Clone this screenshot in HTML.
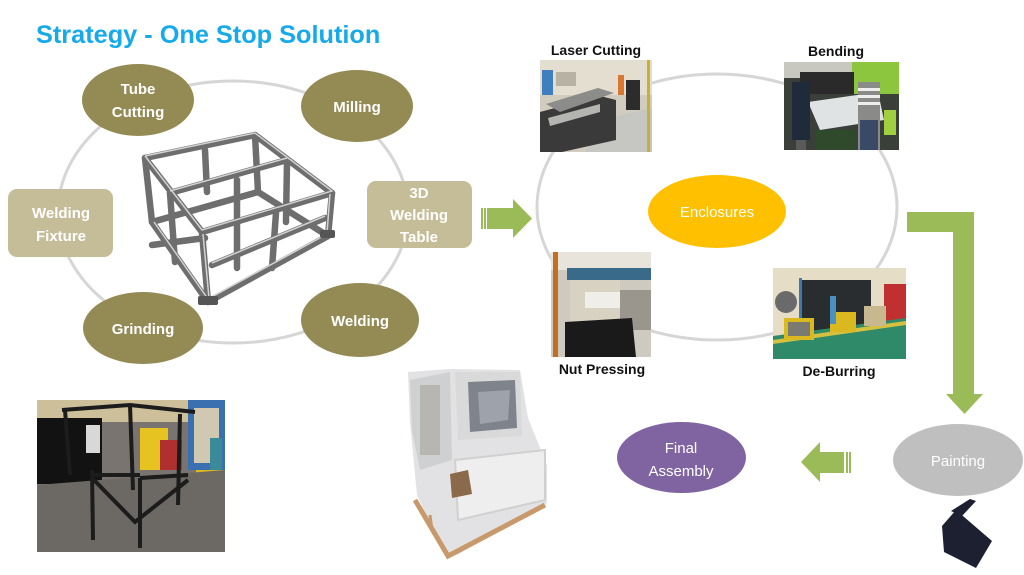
<!DOCTYPE html>
<html><head><meta charset="utf-8"><style>
html,body{margin:0;padding:0;background:#fff;}
body{width:1024px;height:575px;overflow:hidden;position:relative;font-family:"Liberation Sans",Arial,sans-serif;}
svg{position:absolute;left:0;top:0;}
</style></head><body>
<svg width="1024" height="575" viewBox="0 0 1024 575" xmlns="http://www.w3.org/2000/svg" font-family="Liberation Sans, Arial, sans-serif">
<!-- Title -->
<text x="36" y="43" font-size="25.3" font-weight="bold" fill="#16aaea">Strategy - One Stop Solution</text>

<!-- Left ring -->
<ellipse cx="233" cy="212" rx="175" ry="131" fill="none" stroke="#d6d6d6" stroke-width="3"/>

<!-- Central metal frame -->
<g stroke="#6e6e6e" stroke-width="6.5" stroke-linecap="round" stroke-linejoin="round" fill="none">
  <polyline points="145,158 255,135 332,193 202,232 145,158"/>
  <line x1="170" y1="193" x2="287" y2="160"/>
  <line x1="145" y1="158" x2="152" y2="222"/>
  <line x1="202" y1="232" x2="208" y2="302"/>
  <line x1="332" y1="193" x2="328" y2="236"/>
  <line x1="255" y1="135" x2="258" y2="192"/>
  <line x1="205" y1="150" x2="207" y2="192"/>
  <line x1="170" y1="193" x2="175" y2="262"/>
  <line x1="237" y1="180" x2="237" y2="268"/>
  <line x1="287" y1="162" x2="286" y2="222"/>
  <line x1="276" y1="213" x2="272" y2="268"/>
  <polyline points="152,222 208,302 328,236 258,192 152,222" />
  <line x1="152" y1="245" x2="205" y2="238"/>
  <line x1="212" y1="265" x2="325" y2="218"/>
</g>
<g stroke="#d2d2d2" stroke-width="1.5" fill="none">
  <polyline points="145,156 255,133 332,191 202,230 145,156"/>
  <line x1="170" y1="191" x2="287" y2="158"/>
  <line x1="212" y1="263" x2="325" y2="216"/>
  <line x1="154" y1="222" x2="208" y2="299"/>
  <line x1="208" y1="299" x2="327" y2="234"/>
  <line x1="203" y1="234" x2="209" y2="298"/>
  <line x1="330" y1="194" x2="327" y2="233"/>
</g>
<g fill="#555">
  <rect x="198" y="296" width="20" height="9" rx="2"/>
  <rect x="320" y="230" width="15" height="8" rx="2"/>
</g>

<!-- Left nodes -->
<g fill="#948a54">
  <ellipse cx="138" cy="100" rx="56" ry="36"/>
  <ellipse cx="357" cy="106" rx="56" ry="36"/>
  <ellipse cx="143" cy="328" rx="60" ry="36"/>
  <ellipse cx="360" cy="320" rx="59" ry="37"/>
</g>
<g fill="#c4bd97">
  <rect x="8" y="189" width="105" height="68" rx="9"/>
  <rect x="367" y="181" width="105" height="67" rx="9"/>
</g>
<g fill="#fff" font-size="15" font-weight="bold" text-anchor="middle">
  <text x="138" y="94">Tube</text>
  <text x="138" y="117">Cutting</text>
  <text x="357" y="112">Milling</text>
  <text x="143" y="334">Grinding</text>
  <text x="360" y="326">Welding</text>
  <text x="61" y="218">Welding</text>
  <text x="61" y="241">Fixture</text>
  <text x="419" y="198">3D</text>
  <text x="419" y="220">Welding</text>
  <text x="419" y="242">Table</text>
</g>

<!-- Arrow right -->
<g fill="#9bbb59">
  <rect x="481" y="208" width="2" height="21"/>
  <rect x="484" y="208" width="2" height="21"/>
  <polygon points="487,208 513,208 513,199 532,218.5 513,238 513,229 487,229"/>
</g>

<!-- Right ring -->
<ellipse cx="717" cy="207" rx="180" ry="133" fill="none" stroke="#d6d6d6" stroke-width="3"/>

<!-- Enclosures -->
<ellipse cx="717" cy="211.5" rx="69" ry="36.5" fill="#ffc000"/>
<text x="717" y="217" font-size="15" fill="#fff" text-anchor="middle">Enclosures</text>

<!-- Laser Cutting photo -->
<g>
  <rect x="540" y="60" width="112" height="92" fill="#d2ccbe"/>
  <rect x="540" y="60" width="112" height="35" fill="#e4ded0"/>
  <rect x="542" y="70" width="11" height="25" fill="#3f7fbf"/>
  <rect x="556" y="72" width="20" height="14" fill="#b8b2a4"/>
  <polygon points="600,120 652,108 652,152 585,152" fill="#c6c6c2"/>
  <polygon points="540,112 600,96 616,100 616,140 562,152 540,152" fill="#3a3a3a"/>
  <polygon points="546,104 598,88 614,93 560,112" fill="#8c8c8a"/>
  <polygon points="548,118 600,104 600,112 550,126" fill="#b4b4b0"/>
  <rect x="618" y="75" width="6" height="20" fill="#d9772f"/>
  <rect x="626" y="80" width="14" height="30" fill="#2c2c2c"/>
  <rect x="647" y="60" width="3" height="92" fill="#c8b030"/>
</g>
<text x="596" y="55" font-size="14" font-weight="bold" fill="#111" text-anchor="middle">Laser Cutting</text>

<!-- Bending photo -->
<g>
  <rect x="784" y="62" width="115" height="88" fill="#3a3f3a"/>
  <rect x="784" y="62" width="115" height="16" fill="#c8c8c0"/>
  <rect x="852" y="62" width="47" height="32" fill="#8cc63f"/>
  <rect x="800" y="72" width="54" height="22" fill="#2a2a2a"/>
  <polygon points="808,102 878,92 884,120 820,130" fill="#dfe3e3"/>
  <rect x="792" y="82" width="18" height="58" fill="#1f2a3a"/>
  <rect x="796" y="140" width="10" height="10" fill="#5a5a5a"/>
  <rect x="858" y="82" width="22" height="68" fill="#8a8a88"/>
  <rect x="858" y="88" width="22" height="3" fill="#eee"/>
  <rect x="858" y="95" width="22" height="3" fill="#eee"/>
  <rect x="858" y="102" width="22" height="3" fill="#eee"/>
  <rect x="860" y="120" width="18" height="30" fill="#3a4a66"/>
  <rect x="815" y="130" width="40" height="20" fill="#2f4a2a"/>
  <rect x="884" y="110" width="12" height="25" fill="#a0d040"/>
</g>
<text x="836" y="56" font-size="14" font-weight="bold" fill="#111" text-anchor="middle">Bending</text>

<!-- Nut Pressing photo -->
<g>
  <rect x="551" y="252" width="100" height="105" fill="#cfcac0"/>
  <rect x="551" y="252" width="100" height="18" fill="#e8e4dc"/>
  <rect x="553" y="252" width="5" height="105" fill="#c07020"/>
  <rect x="567" y="268" width="84" height="12" fill="#3a6a8a"/>
  <rect x="570" y="280" width="50" height="45" fill="#d7d2c2"/>
  <rect x="585" y="292" width="35" height="16" fill="#f0eee8"/>
  <rect x="620" y="290" width="31" height="40" fill="#9a968e"/>
  <polygon points="565,322 632,318 636,357 565,357" fill="#1a1a1a"/>
</g>
<text x="602" y="374" font-size="14" font-weight="bold" fill="#111" text-anchor="middle">Nut Pressing</text>

<!-- De-Burring photo -->
<g>
  <rect x="773" y="268" width="133" height="91" fill="#e6ddc6"/>
  <rect x="801" y="280" width="70" height="52" fill="#2a2d30"/>
  <rect x="799" y="278" width="3" height="56" fill="#3a7ab0"/>
  <rect x="884" y="284" width="22" height="38" fill="#c03030"/>
  <circle cx="786" cy="302" r="11" fill="#6a6a6a"/>
  <polygon points="773,336 906,318 906,359 773,359" fill="#2f8a6a"/>
  <polygon points="773,340 906,321 906,325 773,344" fill="#d6c040"/>
  <rect x="784" y="318" width="30" height="22" fill="#d9b820"/>
  <rect x="788" y="322" width="22" height="14" fill="#7a7a70"/>
  <rect x="830" y="312" width="26" height="20" fill="#d9b820"/>
  <rect x="864" y="306" width="22" height="20" fill="#c8b890"/>
  <rect x="830" y="296" width="6" height="28" fill="#4a90c0"/>
</g>
<text x="839" y="376" font-size="14" font-weight="bold" fill="#111" text-anchor="middle">De-Burring</text>

<!-- Bent arrow -->
<polygon points="907,212 974,212 974,394 983,394 964.5,414 946,394 953,394 953,232 907,232" fill="#9bbb59"/>

<!-- Painting -->
<ellipse cx="958" cy="460" rx="65" ry="36" fill="#bfbfbf"/>
<text x="958" y="466" font-size="15" fill="#fff" text-anchor="middle">Painting</text>

<!-- Black bracket -->
<polygon points="951,511 970,499 976,501 962,516" fill="#1c2030"/>
<polygon points="942,526 956,510 992,541 976,568 944,552" fill="#1c2030"/>

<!-- Left arrow -->
<g fill="#9bbb59">
  <polygon points="801,462 820,442 820,452 844,452 844,473 820,473 820,482"/>
  <rect x="846" y="452" width="2" height="21"/>
  <rect x="849" y="452" width="2" height="21"/>
</g>

<!-- Final Assembly -->
<ellipse cx="681.5" cy="457.5" rx="64.5" ry="35.5" fill="#8064a2"/>
<g fill="#fff" font-size="15" text-anchor="middle">
  <text x="681" y="453">Final</text>
  <text x="681" y="476">Assembly</text>
</g>

<!-- Wrapped machine photo -->
<g>
  <polygon points="408,372 450,369 520,370 528,418 547,465 547,503 457,555 443,552 417,495 410,422" fill="#e2e2e4"/>
  <polygon points="410,380 450,372 452,460 420,470 412,430" fill="#cfd0d2"/>
  <polygon points="455,372 520,372 522,436 458,440" fill="#d9d9d9"/>
  <polygon points="468,382 515,380 517,428 470,432" fill="#7e838c"/>
  <polygon points="478,392 510,390 508,420 480,424" fill="#9ea2aa"/>
  <rect x="420" y="385" width="20" height="70" fill="#b8b6b0"/>
  <polygon points="455,460 545,450 545,500 458,520" fill="#eeeeee" stroke="#d0d0d0" stroke-width="2"/>
  <polygon points="450,474 468,470 472,494 452,498" fill="#8a6a4a"/>
  <polyline points="415,500 448,556 545,505" fill="none" stroke="#c8996a" stroke-width="5"/>
  <line x1="430" y1="515" x2="432" y2="530" stroke="#c8996a" stroke-width="3"/>
</g>

<!-- Bottom-left photo -->
<g>
  <rect x="37" y="400" width="188" height="152" fill="#7a7470"/>
  <rect x="37" y="400" width="188" height="22" fill="#cdbf9a"/>
  <rect x="37" y="418" width="65" height="66" fill="#121212"/>
  <rect x="86" y="425" width="14" height="28" fill="#d8d8d8"/>
  <rect x="140" y="428" width="28" height="42" fill="#e6c320"/>
  <rect x="188" y="400" width="37" height="70" fill="#3a6fb0"/>
  <rect x="194" y="408" width="25" height="55" fill="#d0c8b0"/>
  <rect x="210" y="438" width="12" height="70" fill="#3a8a9a"/>
  <rect x="196" y="470" width="29" height="46" fill="#e0b820"/>
  <rect x="160" y="440" width="22" height="30" fill="#b03030"/>
  <polygon points="37,485 225,470 225,552 37,552" fill="#6c6864"/>
  <g stroke="#1c1c1c" stroke-width="4" fill="none">
    <polyline points="62,410 130,405 195,412"/>
    <line x1="65" y1="410" x2="70" y2="475"/>
    <line x1="130" y1="405" x2="133" y2="490"/>
    <line x1="180" y1="414" x2="178" y2="505"/>
    <polyline points="92,478 135,522 188,480"/>
    <line x1="92" y1="470" x2="93" y2="540"/>
    <line x1="140" y1="478" x2="140" y2="548"/>
    <line x1="92" y1="475" x2="140" y2="475"/>
    <line x1="140" y1="478" x2="188" y2="475"/>
  </g>
</g>
</svg>
</body></html>
